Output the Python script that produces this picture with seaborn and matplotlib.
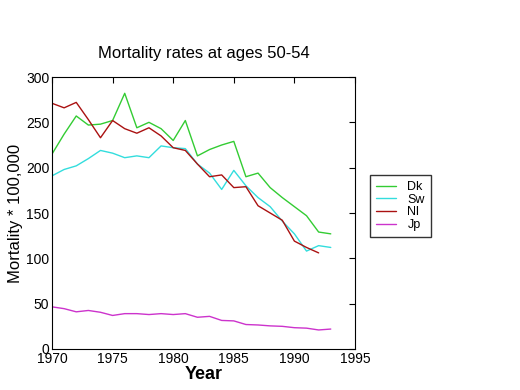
import numpy as np
import pandas as pd
import matplotlib
matplotlib.use('Agg')
import matplotlib.pyplot as plt
import seaborn as sns

# --- data ---
years = list(range(1970, 1994))
dk = [215, 237, 257, 247, 248, 252, 282, 244, 250, 243, 230, 252,
      213, 220, 225, 229, 190, 194, 178, 167, 157, 147, 129, 127]
sw = [191, 198, 202, 210, 219, 216, 211, 213, 211, 224, 222, 221,
      204, 194, 176, 197, 180, 167, 157, 141, 127, 108, 114, 112]
nl = [271, 266, 272, 253, 233, 252, 243, 238, 244, 235, 222, 219,
      204, 190, 192, 178, 179, 158, 150, 142, 119, 112, 106]
jp = [46.5, 44.5, 41, 42.5, 40.5, 37, 39, 39, 38, 39, 38, 39,
      35, 36, 31.5, 31, 27, 26.5, 25.5, 25, 23.5, 23, 21, 22]

series = {'Dk': dk, 'Sw': sw, 'Nl': nl, 'Jp': jp}
colors = {'Dk': '#33cc33', 'Sw': '#33dddd', 'Nl': '#aa1111', 'Jp': '#cc33cc'}

rows = []
for name, vals in series.items():
    for yr, v in zip(years, vals):
        rows.append({'Year': yr, 'Mortality': v, 'Country': name})
df = pd.DataFrame(rows)

sns.set_style('white')
plt.rcParams['font.family'] = ['Liberation Sans', 'DejaVu Sans']
plt.rcParams['text.color'] = 'black'
plt.rcParams['axes.labelcolor'] = 'black'

fig = plt.figure(figsize=(5.2, 3.9), dpi=100)
ax = fig.add_axes([52 / 520, 1 - 349 / 390, 303 / 520, 272 / 390])

sns.lineplot(data=df, x='Year', y='Mortality', hue='Country',
             palette=colors, linewidth=1, ax=ax, legend=False)

ax.set_xlim(1970, 1995)
ax.set_ylim(0, 300)
ax.set_xticks(range(1970, 1996, 5))
ax.set_yticks(range(0, 301, 50))
ax.tick_params(direction='in', length=4, top=True, right=True,
               labelsize=10, colors='black', pad=2)
for sp in ax.spines.values():
    sp.set_color('black')
    sp.set_linewidth(0.8)

ax.set_title('Mortality rates at ages 50-54', fontsize=12, pad=14, color='black')
ax.set_xlabel('Year', fontsize=13, labelpad=0, fontweight='bold')
ax.set_ylabel('Mortality * 100,000', fontsize=12, labelpad=2)

handles = [plt.Line2D([], [], color=colors[k], lw=1) for k in series]
fig.legend(handles, list(series.keys()), loc='upper left',
           bbox_to_anchor=(370 / 520, 1 - 175 / 390), frameon=True,
           fancybox=False, edgecolor='black', fontsize=9,
           handlelength=1.6, labelspacing=0.05, borderpad=0.5,
           handletextpad=0.9, borderaxespad=0)

fig.savefig('out.png', dpi=100)
